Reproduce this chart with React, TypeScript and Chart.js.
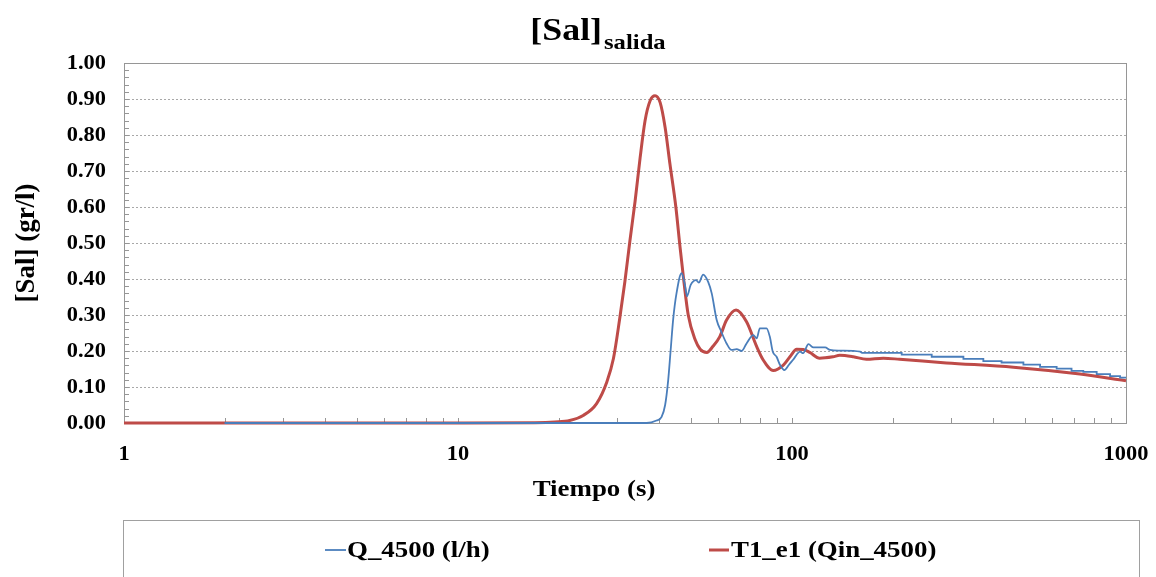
import React, { useEffect, useRef } from "react";
import { Chart, registerables } from "chart.js";

Chart.register(...registerables);

// ---------- texts ----------
const TITLE_MAIN = "[Sal]";
const TITLE_SUB = "salida";
const X_TITLE = "Tiempo (s)";
const Y_TITLE = "[Sal] (gr/l)";
const SERIES_NAMES = ["Q_4500 (l/h)", "T1_e1 (Qin_4500)"];

// ---------- tick labels ----------
const X_TICKS = [1, 10, 100, 1000];
const Y_TICKS = [0, 0.1, 0.2, 0.3, 0.4, 0.5, 0.6, 0.7, 0.8, 0.9, 1.0];

// ---------- series: Q_4500 (l/h) ----------
const qTime = [
  2, 20, 36.7, 39.3, 40.7, 41.7, 42.6, 43.3, 44.1, 45.1, 46.7, 47.8, 48.5, 49.7, 51.6, 52.6, 54.2, 56.1,
  57.5, 59.5, 61.4, 63.7, 65.9, 68.3, 70.7, 73.1, 76.6, 78.4, 80.1, 83.9, 85.8, 87.6, 89.9, 92.1, 94.9,
  97.8, 101.4, 105.7, 108, 112, 115.9, 125.6, 130, 139, 160, 162, 213, 213, 262, 262, 326, 326, 374, 374,
  424, 424, 493, 493, 553, 553, 620, 620, 687, 687, 745, 745, 817, 817, 896, 896, 960, 960, 1000,
];
const qSal = [
  0, 0, 0, 0.007, 0.017, 0.05, 0.12, 0.2, 0.29, 0.36, 0.416, 0.384, 0.352, 0.383, 0.397, 0.39, 0.412,
  0.392, 0.36, 0.286, 0.254, 0.221, 0.203, 0.205, 0.2, 0.221, 0.244, 0.235, 0.263, 0.263, 0.24, 0.198,
  0.184, 0.161, 0.147, 0.161, 0.179, 0.198, 0.194, 0.219, 0.21, 0.21, 0.203, 0.201, 0.198, 0.195, 0.195,
  0.19, 0.19, 0.184, 0.184, 0.178, 0.178, 0.172, 0.172, 0.168, 0.168, 0.162, 0.162, 0.156, 0.156, 0.151,
  0.151, 0.145, 0.145, 0.142, 0.142, 0.136, 0.136, 0.13, 0.13, 0.126, 0.126,
];

// ---------- series: T1_e1 (Qin_4500) ----------
const tTime = [
  1, 10, 17, 19.5, 21.6, 23.7, 26, 27.9, 29.2, 30.5, 31.6, 32.7, 33.9, 35.1, 36.3, 37.6, 38.9, 40.3, 41.7,
  43.1, 44.9, 46.2, 47.5, 48.9, 51.3, 53.1, 55.6, 58, 60.8, 63.7, 68, 73.1, 78.4, 82, 87.9, 94.2, 98.6,
  103.3, 108, 113, 121, 132.7, 139, 152.6, 167, 187.6, 210, 290, 460, 728, 1000,
];
const tSal = [
  0, 0, 0.001, 0.003, 0.007, 0.021, 0.054, 0.114, 0.179, 0.291, 0.393, 0.505, 0.616, 0.737, 0.839, 0.895,
  0.909, 0.89, 0.821, 0.72, 0.6, 0.49, 0.39, 0.3, 0.231, 0.205, 0.196, 0.213, 0.24, 0.286, 0.314,
  0.281, 0.212, 0.175, 0.146, 0.161, 0.184, 0.205, 0.204, 0.196, 0.18, 0.184, 0.188, 0.184, 0.177, 0.18,
  0.177, 0.167, 0.155, 0.136, 0.1175,
];

const BLUE = "#4A7EBB";
const RED = "#BE4B48";
const FONT = '"Liberation Serif", "Times New Roman", serif';
const SX = 1.12; // horizontal text stretch of the reference

function drawText(
  ctx: CanvasRenderingContext2D,
  s: string,
  x: number,
  y: number,
  size: number,
  align: "left" | "center" | "right",
  baseline: CanvasTextBaseline = "middle"
) {
  ctx.save();
  ctx.font = `bold ${size}px ${FONT}`;
  ctx.fillStyle = "#000";
  ctx.textBaseline = baseline;
  ctx.textAlign = "left";
  const w = ctx.measureText(s).width * SX;
  const left = align === "center" ? x - w / 2 : align === "right" ? x - w : x;
  ctx.translate(left, y);
  ctx.scale(SX, 1);
  ctx.fillText(s, 0, 0);
  ctx.restore();
  return w;
}

const decorPlugin = {
  id: "decor",
  beforeDatasetsDraw(chart: any) {
    const { ctx, chartArea } = chart;
    const { left, right, top, bottom } = chartArea;
    const xs = chart.scales.x;
    const ys = chart.scales.y;
    ctx.save();
    ctx.strokeStyle = "#969696";
    ctx.lineWidth = 1;
    ctx.setLineDash([]);
    ctx.strokeRect(Math.round(left) + 0.5, Math.round(top) + 0.5, Math.round(right - left), Math.round(bottom - top));
    // y minor ticks every 0.02
    ctx.beginPath();
    for (let i = 1; i < 50; i++) {
      const y = Math.round(ys.getPixelForValue(i * 0.02)) + 0.5;
      ctx.moveTo(left, y);
      ctx.lineTo(left + 5, y);
    }
    // x minor ticks (log)
    for (const d of [1, 10, 100]) {
      for (let m = 1; m <= 9; m++) {
        const v = m * d;
        if (v <= 1) continue;
        const x = Math.round(xs.getPixelForValue(v)) + 0.5;
        ctx.moveTo(x, bottom);
        ctx.lineTo(x, bottom - 5);
      }
    }
    ctx.stroke();
    ctx.restore();
  },
  afterDraw(chart: any) {
    const { ctx, chartArea } = chart;
    const xs = chart.scales.x;
    const ys = chart.scales.y;
    // title with subscript
    ctx.save();
    ctx.font = `bold 32px ${FONT}`;
    const wMain = ctx.measureText(TITLE_MAIN).width * SX;
    ctx.font = `bold 22px ${FONT}`;
    const wSub = ctx.measureText(TITLE_SUB).width * SX;
    ctx.restore();
    const tStart = 598 - (wMain + 2 + wSub) / 2;
    drawText(ctx, TITLE_MAIN, tStart, 40, 32, "left", "alphabetic");
    drawText(ctx, TITLE_SUB, tStart + wMain + 2, 49, 22, "left", "alphabetic");

    // y tick labels
    for (const v of Y_TICKS) {
      drawText(ctx, v.toFixed(2), 106, ys.getPixelForValue(v) + 1, 20, "right");
    }
    // x tick labels
    for (const v of X_TICKS) {
      drawText(ctx, String(v), xs.getPixelForValue(v), 455, 20, "center");
    }
    // axis titles
    drawText(ctx, X_TITLE, 594, 490, 24, "center");
    ctx.save();
    ctx.translate(27, (chartArea.top + chartArea.bottom) / 2 + 0);
    ctx.rotate(-Math.PI / 2);
    ctx.font = `bold 27px ${FONT}`;
    ctx.fillStyle = "#000";
    ctx.textAlign = "center";
    ctx.textBaseline = "middle";
    ctx.fillText(Y_TITLE, 0, 0);
    ctx.restore();

    // legend box
    ctx.save();
    ctx.strokeStyle = "#a0a0a0";
    ctx.lineWidth = 1;
    ctx.strokeRect(123.5, 520.5, 1016, 120);
    const ds = chart.data.datasets;
    const items = [
      { x0: 325, x1: 346, tx: 347 },
      { x0: 709, x1: 729, tx: 731 },
    ];
    items.forEach((it, i) => {
      ctx.beginPath();
      ctx.strokeStyle = ds[i].borderColor;
      ctx.lineWidth = ds[i].borderWidth;
      ctx.moveTo(it.x0, 550);
      ctx.lineTo(it.x1, 550);
      ctx.stroke();
      drawText(ctx, ds[i].label, it.tx, 551, 24, "left");
    });
    ctx.restore();
  },
};

export default function App() {
  const ref = useRef<HTMLCanvasElement | null>(null);
  useEffect(() => {
    document.body.style.margin = "0";
    const canvas = ref.current;
    if (!canvas) return;
    const chart = new Chart(canvas, {
      type: "line",
      data: {
        datasets: [
          {
            label: SERIES_NAMES[0],
            data: qTime.map((x, i) => ({ x, y: qSal[i] })),
            borderColor: BLUE,
            backgroundColor: BLUE,
            borderWidth: 1.8,
            pointRadius: 0,
            fill: false,
            cubicInterpolationMode: "monotone",
            clip: false as any,
          },
          {
            label: SERIES_NAMES[1],
            data: tTime.map((x, i) => ({ x, y: tSal[i] })),
            borderColor: RED,
            backgroundColor: RED,
            borderWidth: 3,
            pointRadius: 0,
            fill: false,
            cubicInterpolationMode: "monotone",
            clip: false as any,
          },
        ],
      },
      options: {
        animation: false,
        responsive: false,
        maintainAspectRatio: false,
        layout: { padding: { left: 0, right: 30, top: 63, bottom: 0 } },
        plugins: {
          legend: { display: false },
          title: { display: false },
          tooltip: { enabled: false },
        },
        scales: {
          x: {
            type: "logarithmic",
            min: 1,
            max: 1000,
            grid: { display: false },
            border: { display: false },
            ticks: { display: false },
            afterFit: (s: any) => {
              s.height = 154;
            },
          },
          y: {
            type: "linear",
            min: 0,
            max: 1,
            ticks: { display: false, stepSize: 0.1 },
            grid: { color: "#a8a8a8", lineWidth: 1, drawTicks: false },
            border: { display: false, dash: [2, 2] },
            afterFit: (s: any) => {
              s.width = 124;
            },
          },
        },
      } as any,
      plugins: [decorPlugin],
    });
    return () => chart.destroy();
  }, []);
  return (
    <div style={{ width: 1156, height: 577, overflow: "hidden", background: "#fff" }}>
      <canvas ref={ref} width={1156} height={577} style={{ display: "block" }} />
    </div>
  );
}
